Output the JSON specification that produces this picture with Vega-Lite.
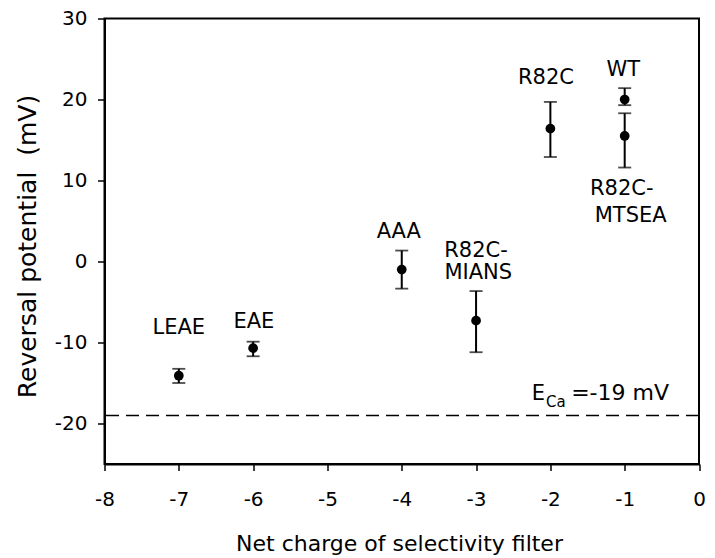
{
  "$schema": "https://vega.github.io/schema/vega-lite/v6.json",
  "width": 594.5,
  "height": 445.5,
  "autosize": "none",
  "padding": {"left": 104.5, "top": 18.5, "right": 16, "bottom": 94},
  "background": "white",
  "config": {
    "font": "DejaVu Sans",
    "view": {"stroke": "black", "strokeWidth": 2},
    "axis": {
      "grid": false,
      "domainColor": "black",
      "domainWidth": 2,
      "tickColor": "black",
      "tickWidth": 1.5,
      "labelColor": "black",
      "labelFont": "DejaVu Sans",
      "titleFont": "DejaVu Sans",
      "titleColor": "black",
      "titleFontWeight": "normal",
      "labelExpr": "'' + datum.value"
    }
  },
  "datasets": {
    "points": [
      {"mutant": "LEAE", "charge": -7, "mean": -14.1, "lo": -15.0, "hi": -13.25},
      {"mutant": "EAE", "charge": -6, "mean": -10.7, "lo": -11.7, "hi": -9.9},
      {"mutant": "AAA", "charge": -4, "mean": -1.0, "lo": -3.35, "hi": 1.35},
      {"mutant": "R82C-MIANS", "charge": -3, "mean": -7.3, "lo": -11.2, "hi": -3.65},
      {"mutant": "R82C", "charge": -2, "mean": 16.4, "lo": 12.9, "hi": 19.7},
      {"mutant": "WT", "charge": -1, "mean": 20.0, "lo": 19.3, "hi": 21.4},
      {"mutant": "R82C-MTSEA", "charge": -1, "mean": 15.5, "lo": 11.6, "hi": 18.3}
    ],
    "labels": [
      {"x": -7.0, "y": -8.15, "text": "LEAE"},
      {"x": -5.99, "y": -7.5, "text": "EAE"},
      {"x": -4.04, "y": 3.6, "text": "AAA"},
      {"x": -3.0, "y": 1.35, "text": "R82C-"},
      {"x": -2.97, "y": -1.4, "text": "MIANS"},
      {"x": -2.06, "y": 22.6, "text": "R82C"},
      {"x": -1.02, "y": 23.6, "text": "WT"},
      {"x": -1.04, "y": 8.9, "text": "R82C-"},
      {"x": -0.92, "y": 5.6, "text": "MTSEA"}
    ]
  },
  "layer": [
    {
      "data": {"name": "points"},
      "mark": {"type": "rule", "color": "black", "strokeWidth": 2},
      "encoding": {
        "x": {
          "field": "charge",
          "type": "quantitative",
          "scale": {"domain": [-8, 0], "nice": false, "zero": false},
          "axis": {
            "values": [-8, -7, -6, -5, -4, -3, -2, -1, 0],
            "title": "Net charge of selectivity filter",
            "titleFontSize": 22,
            "titleX": 294.5,
            "titleY": 86,
            "titleAlign": "center",
            "titleBaseline": "alphabetic",
            "labelFontSize": 20,
            "labelBaseline": "alphabetic",
            "labelPadding": 34.5,
            "tickSize": 6.5,
            "labelFlush": false,
            "labelOverlap": false
          }
        },
        "y": {
          "field": "lo",
          "type": "quantitative",
          "scale": {"domain": [-25, 30], "nice": false, "zero": false},
          "axis": {
            "values": [-20, -10, 0, 10, 20, 30],
            "title": "Reversal potential\u00a0 (mV)",
            "titleFontSize": 25,
            "titleX": -77.5,
            "titleY": 227.5,
            "titleAngle": -90,
            "titleAlign": "center",
            "titleBaseline": "middle",
            "labelFontSize": 20,
            "labelPadding": 10.5,
            "tickSize": 7,
            "labelFlush": false,
            "labelOverlap": false
          }
        },
        "y2": {"field": "hi"}
      }
    },
    {
      "data": {"name": "points"},
      "mark": {"type": "tick", "orient": "horizontal", "color": "black", "size": 13, "thickness": 1.8},
      "encoding": {
        "x": {"field": "charge", "type": "quantitative"},
        "y": {"field": "lo", "type": "quantitative"}
      }
    },
    {
      "data": {"name": "points"},
      "mark": {"type": "tick", "orient": "horizontal", "color": "black", "size": 13, "thickness": 1.8},
      "encoding": {
        "x": {"field": "charge", "type": "quantitative"},
        "y": {"field": "hi", "type": "quantitative"}
      }
    },
    {
      "data": {"name": "points"},
      "mark": {"type": "point", "shape": "circle", "filled": true, "color": "black", "opacity": 1, "size": 95},
      "encoding": {
        "x": {"field": "charge", "type": "quantitative"},
        "y": {"field": "mean", "type": "quantitative"}
      }
    },
    {
      "data": {"values": [{"eca": -19}]},
      "mark": {"type": "rule", "color": "black", "strokeWidth": 1.5, "strokeDash": [13, 7]},
      "encoding": {
        "y": {"field": "eca", "type": "quantitative"}
      }
    },
    {
      "data": {"name": "labels"},
      "mark": {"type": "text", "align": "center", "baseline": "middle", "fontSize": 21, "color": "black"},
      "encoding": {
        "x": {"field": "x", "type": "quantitative"},
        "y": {"field": "y", "type": "quantitative"},
        "text": {"field": "text"}
      }
    },
    {
      "data": {"values": [{"x": -2.25, "y": -17.04, "text": "E"}]},
      "mark": {"type": "text", "align": "left", "baseline": "alphabetic", "fontSize": 21, "color": "black"},
      "encoding": {
        "x": {"field": "x", "type": "quantitative"},
        "y": {"field": "y", "type": "quantitative"},
        "text": {"field": "text"}
      }
    },
    {
      "data": {"values": [{"x": -2.06, "y": -18.0, "text": "Ca"}]},
      "mark": {"type": "text", "align": "left", "baseline": "alphabetic", "fontSize": 15, "color": "black"},
      "encoding": {
        "x": {"field": "x", "type": "quantitative"},
        "y": {"field": "y", "type": "quantitative"},
        "text": {"field": "text"}
      }
    },
    {
      "data": {"values": [{"x": -1.72, "y": -17.04, "text": "=-19 mV"}]},
      "mark": {"type": "text", "align": "left", "baseline": "alphabetic", "fontSize": 22, "color": "black"},
      "encoding": {
        "x": {"field": "x", "type": "quantitative"},
        "y": {"field": "y", "type": "quantitative"},
        "text": {"field": "text"}
      }
    }
  ]
}
